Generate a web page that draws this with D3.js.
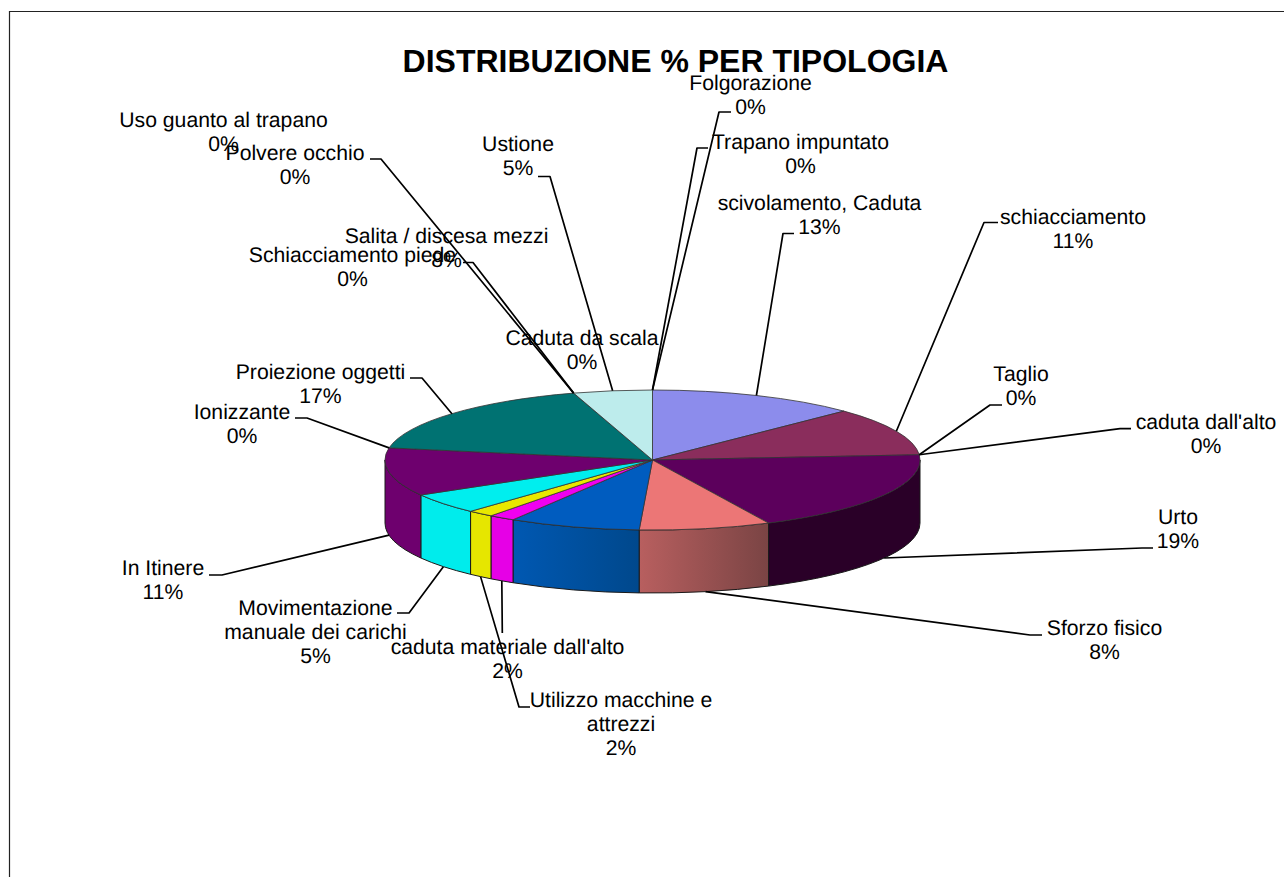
<!DOCTYPE html>
<html>
<head>
<meta charset="utf-8">
<script src="https://cdn.jsdelivr.net/npm/d3@7"></script>
<style>
html,body{margin:0;padding:0;background:#fff;overflow:hidden}
svg{display:block}
text{font-family:"Liberation Sans",Arial,sans-serif;fill:#000;text-rendering:geometricPrecision}
</style>
</head>
<body>
<div id="chart"></div>
<script>
// --- data, clockwise from 12 o'clock ---
const titleText = "DISTRIBUZIONE % PER TIPOLOGIA";
const categories = [
  ["scivolamento, Caduta"], ["schiacciamento"], ["Taglio"], ["caduta dall'alto"], ["Urto"],
  ["Sforzo fisico"], ["Salita / discesa mezzi"], ["caduta materiale dall'alto"],
  ["Utilizzo macchine e", "attrezzi"], ["Movimentazione", "manuale dei carichi"], ["In Itinere"],
  ["Ionizzante"], ["Proiezione oggetti"], ["Caduta da scala"], ["Schiacciamento piede"],
  ["Polvere occhio"], ["Uso guanto al trapano"], ["Ustione"], ["Trapano impuntato"], ["Folgorazione"]
];
const counts = [8, 7, 0, 0, 12, 5, 5, 1, 1, 3, 7, 0, 11, 0, 0, 0, 0, 3, 0, 0];
const percents = ["13%","11%","0%","0%","19%","8%","8%","2%","2%","5%","11%","0%","17%","0%","0%","0%","0%","5%","0%","0%"];

// --- styles ---
const topColors = ["#8c8cec","#8a2d5c","#000","#000","#5c005c","#ec7676","#005cbf","#f000f0",
  "#e8e800","#00eeee","#6e006e","#000","#007272","#000","#000","#000","#000","#bdecec","#000","#000"];
const sideColors = ["#8c8cec","#8a2d5c","#000","#000","#2a0028","url(#gSforzo)","url(#gBlue)","#e600e6",
  "#e6e600","#00ecec","#6e006e","#000","#007272","#000","#000","#000","#000","#bdecec","#000","#000"];

// --- label layout ---
const labelX = [819.5,1073,1021,1206,1178,1104.5,446.5,507.5,621,315.5,163,242,320.5,582,352.5,295,223.5,518,800.5,750.5];
const labelY = [210,224,381,429,524,635,243,654,707,615,575,419,379,345,262,160,127,151,149,90];
const leaderStart = [[794,233.5],[998,222.5],[1002,405],[1131,428.7],[1153,548],[1042,635],[463,262.5],[502.3,633],
  [530,707],[397,613],[209,575],[295,418],[410,378],null,null,[370,159],null,[538,176.5],[708,148],[731,112]];
const leaderBend = [[783,233.5],[984,222.5],[990,405],[1120,428.7],[1142,548],[1030,635],[473,262.5],[502.3,632],
  [519,707],[409,613],[222,575],[307,418],[422,378],null,null,[381,159],null,[550,176.5],[697,148],[719,112]];
// Salita's leader runs to the zero-width wedge beside Caduta da scala, not to its own wedge
const leaderAnchorOverride = {6: 13};

const W = 1284, H = 877;
const cx = 652.5, cy = 460, rx = 267.5, ry = 70, depth = 63;

const svg = d3.select("#chart").append("svg").attr("width", W).attr("height", H);

const defs = svg.append("defs");
function grad(id, c0, c1) {
  const g = defs.append("linearGradient").attr("id", id).attr("x1", 0).attr("x2", 1).attr("y1", 0).attr("y2", 0);
  g.append("stop").attr("offset", 0).attr("stop-color", c0);
  g.append("stop").attr("offset", 1).attr("stop-color", c1);
}
grad("gSforzo", "#b85f5f", "#7a4444");
grad("gBlue", "#0058b2", "#00488c");

// frame: only left and top edges are visible in the picture
svg.append("path").attr("d", `M9.5,${H}V11.5H${W}`).attr("fill", "none").attr("stroke", "#222").attr("stroke-width", 1.2);

const pie = d3.pie().sort(null).value(d => d).startAngle(0).endAngle(2 * Math.PI);
const arcs = pie(counts);

const px = a => cx + rx * Math.sin(a);
const py = a => cy - ry * Math.cos(a);

function topPath(a0, a1) {
  if (a1 - a0 <= 0) return "";
  const large = a1 - a0 > Math.PI ? 1 : 0;
  return `M${cx},${cy}L${px(a0)},${py(a0)}A${rx},${ry} 0 ${large} 1 ${px(a1)},${py(a1)}Z`;
}
function sidePath(a0, a1) {
  const s = Math.max(a0, Math.PI / 2), e = Math.min(a1, 3 * Math.PI / 2);
  if (e <= s) return "";
  return `M${px(s)},${py(s)}A${rx},${ry} 0 0 1 ${px(e)},${py(e)}` +
         `L${px(e)},${py(e) + depth}A${rx},${ry} 0 0 0 ${px(s)},${py(s) + depth}Z`;
}

const pieG = svg.append("g");
pieG.selectAll("path.side").data(arcs).join("path").attr("class", "side")
  .attr("d", d => sidePath(d.startAngle, d.endAngle))
  .attr("fill", (d, i) => sideColors[i])
  .attr("stroke", "#1a1a1a").attr("stroke-width", 1).attr("stroke-linejoin", "round");
pieG.selectAll("path.top").data(arcs).join("path").attr("class", "top")
  .attr("d", d => topPath(d.startAngle, d.endAngle))
  .attr("fill", (d, i) => topColors[i])
  .attr("stroke", "#333").attr("stroke-opacity", 0.8).attr("stroke-width", 1).attr("stroke-linejoin", "round");

function anchor(i) {
  const d = arcs[leaderAnchorOverride[i] ?? i];
  const a = (d.startAngle + d.endAngle) / 2;
  const front = a > Math.PI / 2 && a < 3 * Math.PI / 2;
  return [px(a), py(a) + (front ? depth : 0)];
}

const line = d3.line();
svg.append("g").selectAll("path").data(categories.map((c, i) => i).filter(i => leaderStart[i]))
  .join("path")
  .attr("d", i => line([leaderStart[i], leaderBend[i], anchor(i)]))
  .attr("fill", "none").attr("stroke", "#000").attr("stroke-width", 1.7).attr("stroke-linejoin", "round");

const fs = 21.2, lh = 24;
const lab = svg.append("g").attr("text-anchor", "middle").attr("font-size", fs);
lab.selectAll("text").data(categories).join("text")
  .attr("x", (d, i) => labelX[i]).attr("y", (d, i) => labelY[i])
  .each(function (d, i) {
    const t = d3.select(this);
    d.concat(percents[i]).forEach((s, k) => {
      t.append("tspan").attr("x", labelX[i]).attr("y", labelY[i] + k * lh).text(s);
    });
  });

svg.append("text").attr("x", 675.5).attr("y", 72).attr("text-anchor", "middle")
  .attr("font-size", 32).attr("font-weight", "bold").text(titleText);
</script>
</body>
</html>
